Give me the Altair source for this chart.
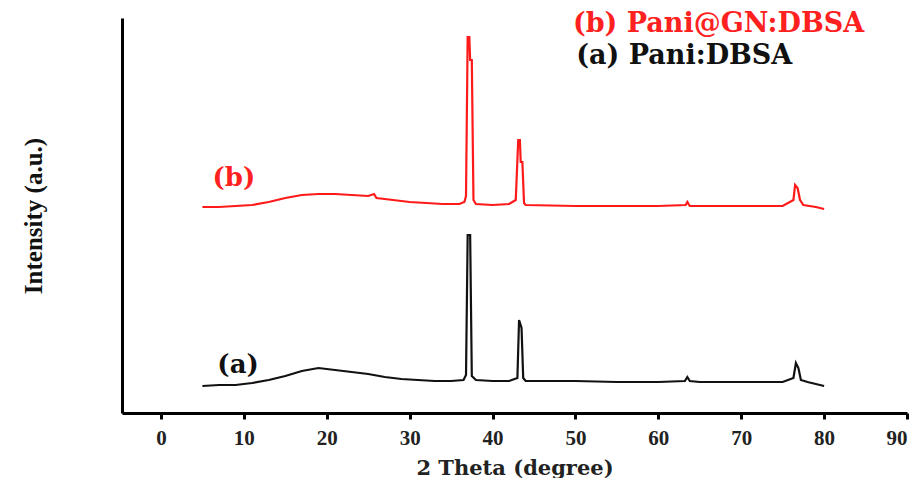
import altair as alt
import pandas as pd

# 2-theta positions and intensities (arbitrary units)
a_theta = [5, 7, 9, 11, 13, 15, 17, 19, 21, 23, 25, 27, 29, 31, 33, 35, 36.5, 36.8, 37.0, 37.3, 37.5, 38, 40, 42,
           43.0, 43.2, 43.5, 43.7, 44, 50, 55, 60, 63.2, 63.5, 63.8, 65, 70, 75, 76.3, 76.6, 76.9, 77.2, 78, 79, 80]
a_int = [27, 28, 28, 30, 33, 37, 42, 45, 43, 41, 39, 36, 34, 33, 32, 32, 33, 38, 178, 178, 37, 33, 32, 32,
         35, 93, 85, 35, 32, 32, 31, 31, 32, 36, 32, 31, 31, 31, 35, 50, 45, 33, 31, 29, 27]

b_theta = [5, 7, 9, 11, 13, 15, 17, 19, 21, 23, 25, 25.7, 26, 28, 30, 32, 34, 36, 36.6, 36.8, 37.0, 37.2, 37.3,
           37.5, 37.7, 38, 40, 42, 42.8, 43.1, 43.3, 43.4, 43.6, 43.8, 44, 50, 55, 60, 63.3, 63.5, 63.8, 65, 70,
           75, 76.3, 76.5, 76.8, 77.1, 77.5, 79, 80]
b_int = [206, 206, 207, 208, 211, 215, 218, 219, 219, 218, 217, 219, 215, 213, 211, 210, 209, 209, 211, 217,
         376, 376, 353, 353, 213, 209, 208, 209, 213, 273, 273, 251, 251, 210, 208, 207, 207, 207, 208, 211,
         207, 207, 207, 207, 213, 228, 225, 213, 208, 206, 204]

label_text = ["(b)", "(a)", "(b) Pani@GN:DBSA", "(a) Pani:DBSA"]
label_x = [8.8, 9.3, 49.7, 50.1]
label_y = [235, 48, 389, 357]
label_align = ["center", "center", "left", "left"]
label_color = ["#ff2020", "#111111", "#ff2020", "#111111"]

x_ticks = [0, 10, 20, 30, 40, 50, 60, 70, 80, 90]

df = pd.concat([
    pd.DataFrame({"theta": a_theta, "intensity": a_int, "sample": "a"}),
    pd.DataFrame({"theta": b_theta, "intensity": b_int, "sample": "b"}),
])
labels = pd.DataFrame({"text": label_text, "x": label_x, "y": label_y, "color": label_color,
                       "align": label_align})

xscale = alt.Scale(domain=[-4.7, 90], nice=False, zero=False)
yscale = alt.Scale(domain=[0, 395], nice=False)

lines = alt.Chart(df).mark_line(strokeWidth=2.2, interpolate="linear").encode(
    x=alt.X("theta:Q", scale=xscale,
            axis=alt.Axis(values=x_ticks, title="2 Theta (degree)", grid=False,
                          domainWidth=3, domainColor="black", tickColor="black", tickWidth=3, tickSize=6,
                          labelFont="Liberation Serif", labelFontSize=21, labelFontWeight="bold",
                          labelColor="#222222", labelPadding=8,
                          titleFont="DejaVu Serif", titleFontSize=21, titleFontWeight="bold",
                          titleColor="#222222", titlePadding=9)),
    y=alt.Y("intensity:Q", scale=yscale,
            axis=alt.Axis(labels=False, ticks=False, grid=False, title="Intensity (a.u.)",
                          domainWidth=3, domainColor="black",
                          titleFont="Liberation Serif", titleFontSize=25, titleFontWeight="bold",
                          titleColor="#111111", titlePadding=76)),
    color=alt.Color("sample:N", scale=alt.Scale(domain=["a", "b"], range=["#111111", "#ff1a1a"]), legend=None),
    detail="sample:N",
)

text_center = alt.Chart(labels).transform_filter(alt.datum.align == "center").mark_text(
    font="DejaVu Serif", fontSize=26, fontWeight="bold", align="center", baseline="middle").encode(
    x=alt.X("x:Q", scale=xscale),
    y=alt.Y("y:Q", scale=yscale),
    text="text:N",
    color=alt.Color("color:N", scale=None),
)
text_left = alt.Chart(labels).transform_filter(alt.datum.align == "left").mark_text(
    font="DejaVu Serif", fontSize=27, fontWeight="bold", align="left", baseline="middle").encode(
    x=alt.X("x:Q", scale=xscale),
    y=alt.Y("y:Q", scale=yscale),
    text="text:N",
    color=alt.Color("color:N", scale=None),
)

chart = (lines + text_center + text_left).properties(
    width=785, height=395, padding={"left": 13, "top": 1, "right": 0, "bottom": 0}
).configure_view(stroke=None)

chart.save("out.html", embed_options={"renderer": "svg", "actions": False})
